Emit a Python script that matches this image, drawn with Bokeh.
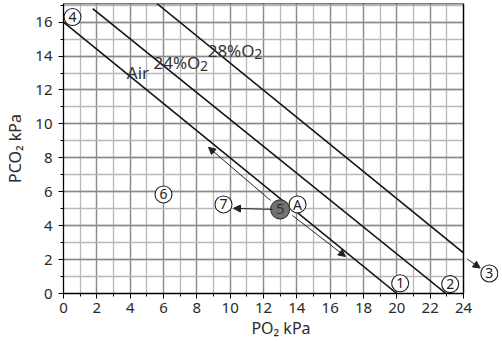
from bokeh.plotting import figure
from bokeh.models import (Range1d, SingleIntervalTicker, Arrow, NormalHead,
                          ColumnDataSource)
from bokeh.core.properties import value
from bokeh.embed import file_html
from bokeh.resources import INLINE

FONT = "Noto Sans"

# iso-lines (PO2, PCO2 end points)
air_x = [0, 20]
air_y = [16, 0]
o24_x = [1.75, 22.95]
o24_y = [16.8, 0]
o28_x = [5.6, 24]
o28_y = [17.1, 2.4]

# line labels
line_lab = ["Air", "24%O", "28%O"]
line_lab_x = [3.8, 5.4, 8.65]
line_lab_y = [13.05, 13.65, 14.35]
sub_lab = ["2", "2"]
sub_x = [5.4, 8.65]
sub_y = [13.65, 14.35]

# circled markers
mark_txt = ["1", "2", "3", "4", "A", "6", "7"]
mark_x = [20.2, 23.2, 25.55, 0.54, 14.04, 6.0, 9.6]
mark_y = [0.6, 0.55, 1.18, 16.3, 5.25, 5.84, 5.25]
# filled marker 5
m5_x = [13.0]
m5_y = [4.96]

# arrows
arr_x0 = [12.54, 12.42, 13.74, 24.2]
arr_y0 = [4.96, 5.49, 4.60, 2.05]
arr_x1 = [10.2, 8.7, 16.92, 25.0]
arr_y1 = [5.02, 8.62, 2.18, 1.5]

x_max = 24
y_top = 17.1

p = figure(width=502, height=341, x_range=Range1d(0, 26.1), y_range=Range1d(0, y_top),
           output_backend="svg", toolbar_location=None,
           min_border_left=63, min_border_right=4, min_border_top=3, min_border_bottom=48)
p.outline_line_color = None
p.background_fill_color = "white"
p.border_fill_color = "white"

for ax in (p.xaxis[0], p.yaxis[0]):
    ax.ticker = SingleIntervalTicker(interval=2, num_minor_ticks=2)
    ax.axis_line_color = "black"
    ax.axis_line_width = 1.3
    ax.major_tick_line_color = "black"
    ax.minor_tick_line_color = "black"
    ax.major_tick_out = 5
    ax.major_tick_in = 0
    ax.minor_tick_out = 3
    ax.minor_tick_in = 0
    ax.major_label_text_font = FONT
    ax.major_label_text_font_size = "15px"
    ax.major_label_text_color = "#2a2a2a"
    ax.axis_label_text_font = FONT
    ax.axis_label_text_font_size = "16px"
    ax.axis_label_text_font_style = "normal"
    ax.axis_label_text_color = "#2a2a2a"
p.xaxis.major_label_standoff = 4
p.yaxis.major_label_standoff = 6
p.xaxis.bounds = (0, x_max)
p.yaxis.bounds = (0, y_top)
p.xaxis.axis_label = "PO₂ kPa"
p.xaxis.axis_label_standoff = 1
p.yaxis.axis_label = "PCO₂ kPa"
p.yaxis.axis_label_standoff = 6

for g in (p.xgrid[0], p.ygrid[0]):
    g.ticker = SingleIntervalTicker(interval=2, num_minor_ticks=2)
    g.grid_line_color = "#8a8a8a"
    g.grid_line_width = 1.3
    g.minor_grid_line_color = "#b8b8b8"
    g.minor_grid_line_width = 1.3
p.xgrid.bounds = (0, x_max)
p.ygrid.cross_bounds = (0, x_max)

# frame top/right borders
p.line([0, x_max], [y_top, y_top], line_color="black", line_width=1.3)
p.line([x_max, x_max], [0, y_top], line_color="black", line_width=1.3)

for xs, ys in ((air_x, air_y), (o24_x, o24_y), (o28_x, o28_y)):
    p.line(xs, ys, line_color="#111111", line_width=1.6)

p.text(line_lab_x, line_lab_y, text=line_lab, text_font=value(FONT),
       text_font_size="17px", text_color="#333333", text_align="left",
       text_baseline="alphabetic")
p.text(sub_x, sub_y, text=sub_lab, text_font=value(FONT), x_offset=46.5, y_offset=4,
       text_font_size="14px", text_color="#333333", text_align="left",
       text_baseline="alphabetic")

src = ColumnDataSource(dict(x0=arr_x0, y0=arr_y0, x1=arr_x1, y1=arr_y1))
p.add_layout(Arrow(x_start="x0", y_start="y0", x_end="x1", y_end="y1", source=src,
                   line_color="#222222", line_width=1,
                   end=NormalHead(size=7, fill_color="#222222", line_color="#222222")))

p.scatter(mark_x, mark_y, marker="circle", size=17, fill_color="white",
          line_color="#222222", line_width=1.1)
p.text(mark_x, mark_y, text=mark_txt, text_font=value(FONT), text_font_size="14px",
       text_color="#222222", text_align="center", text_baseline="middle")

p.scatter(m5_x, m5_y, marker="circle", size=19, fill_color="#727272",
          line_color="#3a3a3a", line_width=1.1)
p.text(m5_x, m5_y, text=["5"], text_font=value(FONT), text_font_size="15px",
       text_color="#333333", text_align="center", text_baseline="middle")

open("out.html", "w").write(file_html(p, INLINE))
